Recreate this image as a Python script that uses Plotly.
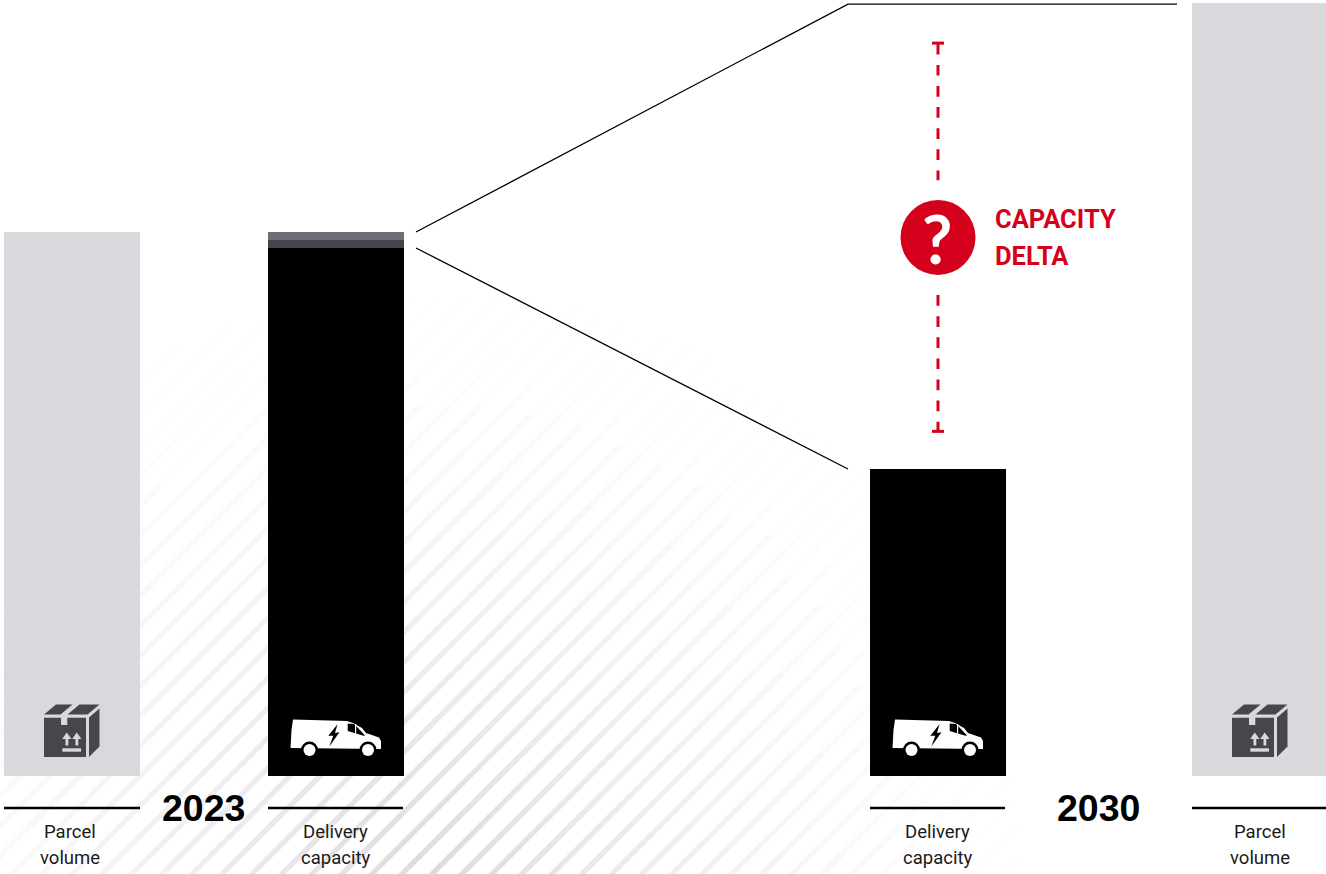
import math
import plotly.graph_objects as go

# Chart values, indexed so that the 2023 parcel volume is 100
bar_centres = [72, 336, 938, 1260]
parcel_x = [bar_centres[0], bar_centres[3]]
parcel_volume = [100.0, 142.1]
capacity_x = [bar_centres[1], bar_centres[2]]
capacity_core = [97.06, 56.43]
capacity_band_dark = [1.47, 0.0]
capacity_band_light = [1.47, 0.0]
bar_width = 136

years = ["2023", "2030"]
year_x = [203, 1098]
label_x = [69.5, 335, 937, 1260]
label_lines = [["Parcel", "volume"], ["Delivery", "capacity"], ["Delivery", "capacity"], ["Parcel", "volume"]]
rule_spans = [(4, 140), (268, 403), (870, 1005), (1192, 1326)]

delta_upper = [134.6, 109.5]
delta_lower = [88.4, 63.4]
delta_x = 938
delta_mid = 99.0
delta_label = ["CAPACITY", "DELTA"]

RED = "#d5001c"
GREY = "#d8d8dd"
ICON_DARK = "#47464c"
WIDTH, HEIGHT = 1326, 874
BASELINE, UNIT = 776, 5.44


def poly(points, dx=0, dy=0):
    return "M" + " L".join(f"{x + dx:.1f},{y + dy:.1f}" for x, y in points) + " Z"


shapes = []


def add_path(path, fill, layer="above"):
    shapes.append(dict(type="path", path=path, xref="x", yref="y2", fillcolor=fill,
                       line=dict(width=0), layer=layer))


def add_disc(cx, cy, r, fill):
    shapes.append(dict(type="circle", xref="x", yref="y2", x0=cx - r, x1=cx + r, y0=cy - r, y1=cy + r,
                       fillcolor=fill, line=dict(width=0), layer="above"))


# Faded diagonal hatching behind the bars, grouped into shade buckets
STRIPE_STEP, STRIPE_PHASE, STRIPE_W = 30, 1306, 5.2
HATCH_CX, HATCH_CY, HATCH_R = 430, 880, 640
LEVELS = 36
buckets = {}
for k in range(-40, 40):
    c = STRIPE_PHASE + k * STRIPE_STEP
    x = -20
    while x < 1100:
        x2 = x + 10
        y, y2 = c - x, c - x2
        if -10 < y < HEIGHT + 20:
            mx, my = (x + x2) / 2, (y + y2) / 2
            r = math.hypot(mx - HATCH_CX, my - HATCH_CY) / HATCH_R
            if r < 1:
                lvl = round((1 - r) ** 1.7 * LEVELS)
                if lvl > 0:
                    buckets.setdefault(lvl, []).append(f"M{x - 0.6:.1f},{y + 0.6:.1f} L{x2 + 0.6:.1f},{y2 - 0.6:.1f}")
        x = x2
for lvl in sorted(buckets):
    t = lvl / LEVELS
    col = f"rgb({round(255 - 36 * t)},{round(255 - 36 * t)},{round(255 - 32 * t)})"
    shapes.append(dict(type="path", path=" ".join(buckets[lvl]), xref="x", yref="y2",
                       line=dict(color=col, width=STRIPE_W), layer="below"))

# Delivery van icon, drawn relative to its capacity bar
VAN_BODY = [(293, 719.5), (347, 721), (353, 723), (362, 728), (366, 733), (379, 737.5), (381, 741), (381, 749),
            (290.5, 748), (291.5, 730)]
VAN_WINDOW = [(347.7, 723.5), (347.7, 731), (363.5, 735.7), (365, 735.5), (357.5, 727.5), (354, 724)]
VAN_BOLT = [(337.5, 724.3), (328.3, 735.7), (333.3, 735.7), (329.3, 746.5), (339.5, 732.3), (335, 733)]
VAN_WHEELS = [(309.5, 750), (368, 750)]
for cx in capacity_x:
    dx = cx - 336
    add_path(poly(VAN_BODY, dx), "white")
    add_path(poly(VAN_WINDOW, dx), "black")
    add_path(poly([(355, 724), (356.2, 724), (356.2, 733.5), (355, 733.2)], dx), "white")
    add_path(poly(VAN_BOLT, dx), "black")
    for wx, wy in VAN_WHEELS:
        add_disc(wx + dx, wy, 8.5, "black")
        add_disc(wx + dx, wy, 6, "white")

# Parcel box icon, drawn relative to its parcel bar
BOX_FRONT = [(44, 717.7), (61, 717.7), (61, 725), (67.3, 725), (67.3, 717.7), (86, 717.7), (86, 757), (44, 757)]
BOX_FLAP_L = [(44, 714.5), (56, 704.5), (72.5, 704.5), (60.5, 714.5)]
BOX_FLAP_R = [(67.5, 714.5), (79.5, 704.5), (99.5, 704.5), (87.5, 714.5)]
BOX_SIDE = [(89, 717.5), (99.5, 708.5), (99.5, 746.5), (89, 757)]
BOX_ARROW_L = [(66.7, 732.5), (71.5, 739), (68.3, 739), (68.3, 745.5), (65.5, 745.5), (65.5, 739), (62.2, 739)]
BOX_ARROW_R = [(76.7, 732.5), (81.5, 739), (78.3, 739), (78.3, 745.5), (75.5, 745.5), (75.5, 739), (72.2, 739)]
BOX_BASE = [(62.3, 748.3), (81, 748.3), (81, 751.7), (62.3, 751.7)]
for cx in parcel_x:
    dx = cx - 72
    for part in (BOX_FRONT, BOX_FLAP_L, BOX_FLAP_R, BOX_SIDE):
        add_path(poly(part, dx), ICON_DARK)
    for part in (BOX_ARROW_L, BOX_ARROW_R, BOX_BASE):
        add_path(poly(part, dx), GREY)

fig = go.Figure()

fig.add_bar(x=parcel_x, y=parcel_volume, width=bar_width, marker=dict(color=GREY, line=dict(width=0)),
            name="Parcel volume", hoverinfo="skip")
fig.add_bar(x=capacity_x, y=capacity_core, width=bar_width, marker=dict(color="black", line=dict(width=0)),
            name="Delivery capacity", hoverinfo="skip")
fig.add_bar(x=capacity_x, y=capacity_band_dark, width=bar_width, marker=dict(color="#46454b", line=dict(width=0)),
            name="Capacity band", hoverinfo="skip")
fig.add_bar(x=capacity_x, y=capacity_band_light, width=bar_width, marker=dict(color="#6f6e75", line=dict(width=0)),
            name="Capacity reserve", hoverinfo="skip")

# Connectors running from the 2023 capacity bar out to the 2030 levels
top_2023 = capacity_core[0] + capacity_band_dark[0] + capacity_band_light[0]
fig.add_scatter(x=[416, 848, 1177], y=[top_2023, parcel_volume[1] - 0.2, parcel_volume[1] - 0.2], mode="lines",
                line=dict(color="black", width=1.3), hoverinfo="skip")
fig.add_scatter(x=[416, 848], y=[capacity_core[0], capacity_core[1]], mode="lines",
                line=dict(color="black", width=1.3), hoverinfo="skip")

# Rules under the bars
for x0, x1 in rule_spans:
    fig.add_scatter(x=[x0, x1], y=[(BASELINE - 808) / UNIT] * 2, mode="lines",
                    line=dict(color="black", width=2.5), hoverinfo="skip")

# Dashed delta bracket with its end caps
for ys in (delta_upper, delta_lower):
    fig.add_scatter(x=[delta_x, delta_x], y=ys, mode="lines",
                    line=dict(color=RED, width=3, dash="10.7px,10.4px"), hoverinfo="skip")
for cap in (delta_upper[0] + 0.12, delta_lower[1] - 0.05):
    fig.add_scatter(x=[delta_x - 6, delta_x + 6], y=[cap, cap], mode="lines",
                    line=dict(color=RED, width=3), hoverinfo="skip")
fig.add_scatter(x=[delta_x], y=[delta_mid], mode="markers",
                marker=dict(color=RED, size=75, line=dict(width=0)), hoverinfo="skip")

annotations = []


def add_text(x, y_px, text, size, color="black", family="Roboto", anchor="center"):
    annotations.append(dict(x=x, y=y_px, xref="x", yref="y2", text=text, showarrow=False, xanchor=anchor,
                            yanchor="middle", font=dict(family=family, size=size, color=color)))


add_text(delta_x - 1, 238, "<b>?</b>", 66, "white", "Lato")
for i, word in enumerate(delta_label):
    add_text(993, 219 + i * 37, f"<b>{word}</b>", 25.5, RED, "Roboto", "left")
for yr, yx in zip(years, year_x):
    add_text(yx, 808, f"<b>{yr}</b>", 37.5, "black", "Liberation Sans")
for lx, lines in zip(label_x, label_lines):
    for i, line in enumerate(lines):
        add_text(lx, 832 + i * 26, line, 18.5, "#1a1a1a")

fig.update_layout(
    width=WIDTH, height=HEIGHT, autosize=False, barmode="stack", showlegend=False, bargap=0,
    margin=dict(l=0, r=0, t=0, b=0), paper_bgcolor="white", plot_bgcolor="rgba(0,0,0,0)",
    xaxis=dict(range=[0, WIDTH], visible=False, fixedrange=True),
    yaxis=dict(range=[(BASELINE - HEIGHT) / UNIT, BASELINE / UNIT], visible=False, fixedrange=True),
    yaxis2=dict(range=[HEIGHT, 0], visible=False, overlaying="y", fixedrange=True),
    shapes=shapes, annotations=annotations,
)
fig.write_html("out.html", config=dict(displayModeBar=False))
